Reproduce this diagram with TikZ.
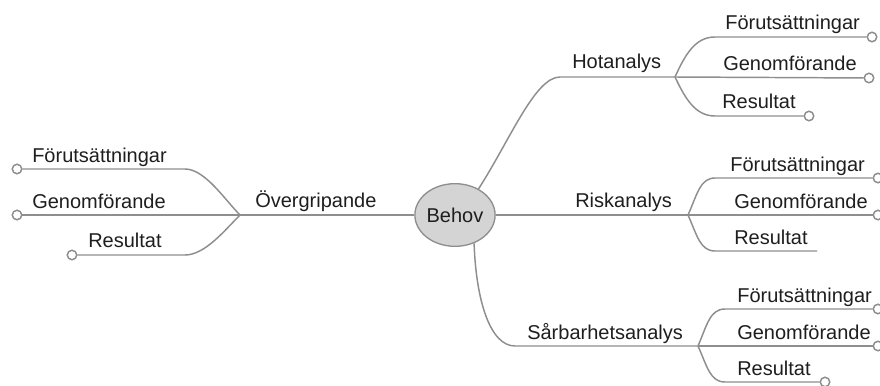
\documentclass[tikz,border=0pt]{standalone}
\usepackage{fontspec}
\setmainfont{Liberation Sans}
\usetikzlibrary{shapes.geometric}
\definecolor{linegray}{HTML}{8E8E8E}
\definecolor{txt}{HTML}{1E1E1E}
\begin{document}
\begin{tikzpicture}[x=0.75pt,y=-0.75pt,
  conn/.style={draw=linegray,line width=1.1pt},
  lbl/.style={anchor=base west,inner sep=0pt,text=txt,font=\fontsize{15}{18}\selectfont},
  endc/.style={circle,draw=linegray,line width=1pt,fill=white,minimum size=7pt,inner sep=0pt},
  root/.style={ellipse,draw=linegray,line width=1pt,fill={rgb,255:red,212;green,212;blue,212},minimum width=60pt,minimum height=47pt,inner sep=0pt,text=txt,font=\fontsize{15}{18}\selectfont}]
\useasboundingbox (0,0) rectangle (880,385);

% root
\node[root] (behov) at (455,215) {Behov};

% branch points
\coordinate (lb) at (240,215);
\coordinate (hb) at (675,77);
\coordinate (rb) at (688,215);
\coordinate (sb) at (698,346);

% end circles
\node[endc] (lf) at (17,169) {};
\node[endc] (lg) at (17,215) {};
\node[endc] (lr) at (72,255) {};
\node[endc] (hf) at (872,37) {};
\node[endc] (hg) at (869,78) {};
\node[endc] (hr) at (809,116) {};
\node[endc] (rf) at (878,178) {};
\node[endc] (rg) at (878,215) {};
\coordinate (rr) at (817,251);
\node[endc] (sf) at (878,309) {};
\node[endc] (sg) at (878,346) {};
\node[endc] (sr) at (825,382) {};

% main connectors
\draw[conn] (behov.west) -- (lb);
\draw[conn] (behov.48) .. controls (510,140) and (535,77) .. (560,77) -- (hb);
\draw[conn] (behov.east) -- (rb);
\draw[conn] (behov.-56) .. controls (476,300) and (490,346) .. (515,346) -- (sb);

% left group
\draw[conn] (lb) .. controls (225,200) and (205,169) .. (185,169) -- (lf);
\draw[conn] (lb) -- (lg);
\draw[conn] (lb) .. controls (225,230) and (205,255) .. (185,255) -- (lr);

% Hotanalys group
\draw[conn] (hb) .. controls (685,55) and (695,37) .. (715,37) -- (hf);
\draw[conn] (hb) -- (hg);
\draw[conn] (hb) .. controls (685,98) and (695,116) .. (715,116) -- (hr);

% Riskanalys group
\draw[conn] (rb) .. controls (697,195) and (700,178) .. (715,178) -- (rf);
\draw[conn] (rb) -- (rg);
\draw[conn] (rb) .. controls (697,235) and (700,251) .. (715,251) -- (rr);

% Sarbarhetsanalys group
\draw[conn] (sb) .. controls (707,325) and (710,309) .. (725,309) -- (sf);
\draw[conn] (sb) -- (sg);
\draw[conn] (sb) .. controls (707,366) and (710,382) .. (725,382) -- (sr);

% redraw end circles on top
\foreach \c in {lf,lg,lr,hf,hg,hr,rf,rg,sf,sg,sr}{
  \path (\c) node[endc] {};
}

% labels
\node[lbl] (tov) at (255,207) {Övergripande};
\node[lbl] (tlf) at (32,162) {Förutsättningar};
\node[lbl] (tlg) at (32,208) {Genomförande};
\node[lbl] (tlr) at (88,247) {Resultat};

\node[lbl] (tho) at (572,69) {Hotanalys};
\node[lbl] (thf) at (725,30) {Förutsättningar};
\node[lbl] (thg) at (723,70.5) {Genomförande};
\node[lbl] (thr) at (722,108) {Resultat};

\node[lbl] (tri) at (575,207) {Riskanalys};
\node[lbl] (trf) at (730,171) {Förutsättningar};
\node[lbl] (trg) at (734,208) {Genomförande};
\node[lbl] (trr) at (734,244) {Resultat};

\node[lbl] (tsa) at (527,339) {Sårbarhetsanalys};
\node[lbl] (tsf) at (737,302) {Förutsättningar};
\node[lbl] (tsg) at (737,339) {Genomförande};
\node[lbl] (tsr) at (737,375) {Resultat};
\end{tikzpicture}
\end{document}
